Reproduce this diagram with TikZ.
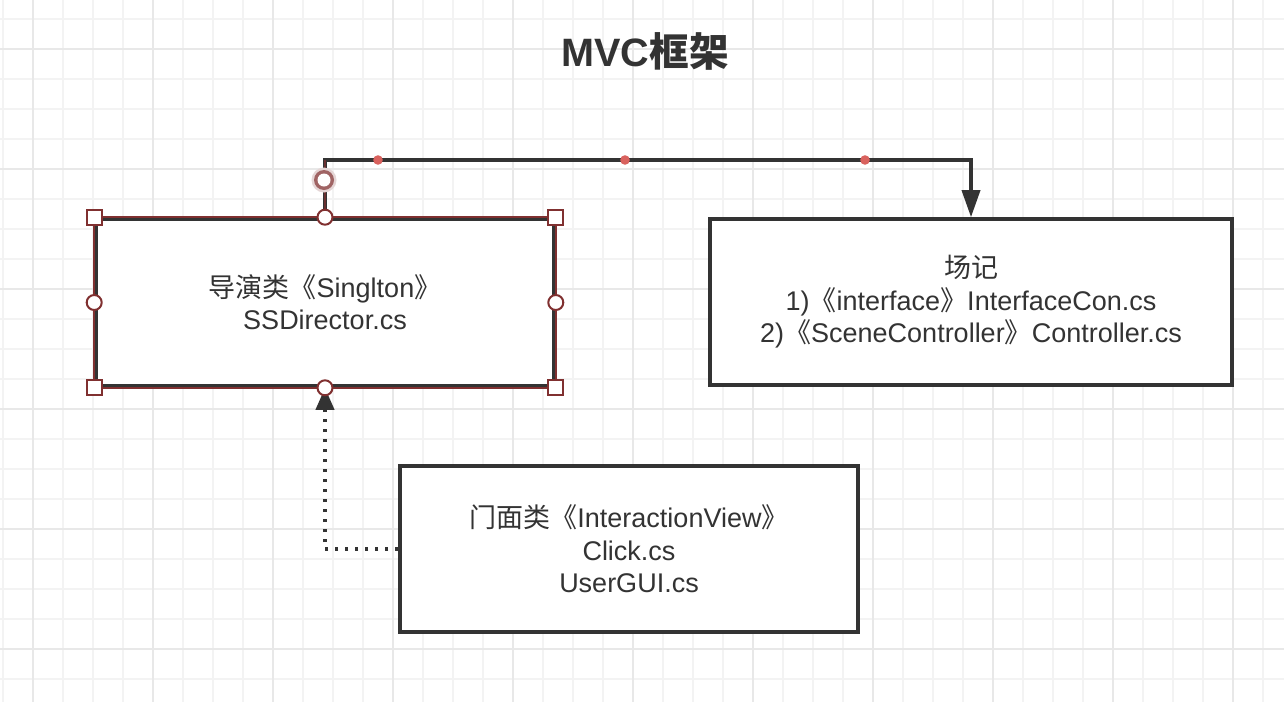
\documentclass[tikz,border=0pt]{standalone}
\usepackage{fontspec}
\setmainfont{Liberation Sans}
\newfontfamily\cjk{Noto Sans CJK SC}
\usetikzlibrary{arrows.meta}
\definecolor{ink}{HTML}{333333}
\definecolor{sel}{RGB}{128,48,48}
\definecolor{gridminor}{HTML}{F3F3F3}
\definecolor{gridmajor}{HTML}{E8E8E8}
\definecolor{dotred}{HTML}{D9625E}
\begin{document}
\begin{tikzpicture}[x=0.5pt,y=-0.5pt,
  box/.style={draw=ink, line width=1.8pt, fill=white, align=center, text=ink,
    font=\fontsize{13.5}{16.2}\selectfont, inner sep=0pt},
  conn/.style={draw=ink, line width=1.8pt},
  dotline/.style={draw=ink, line width=2pt, dash pattern=on 1.6pt off 3.4pt},
  sqhandle/.style={draw=sel, line width=1pt, fill=white, minimum size=7.5pt, inner sep=0pt, shape=rectangle},
  cirhandle/.style={draw=sel, line width=1pt, fill=white, circle, minimum size=7.5pt, inner sep=0pt},
  waypoint/.style={fill=dotred, circle, minimum size=4.8pt, inner sep=0pt},
]
\useasboundingbox (0,0) rectangle (1284,702);
\fill[white] (0,0) rectangle (1284,702);
% grid
\foreach \x in {3,33,...,1284} \draw[gridminor, line width=1pt] (\x,0) -- (\x,702);
\foreach \y in {19,49,...,702} \draw[gridminor, line width=1pt] (0,\y) -- (1284,\y);
\foreach \x in {33,153,...,1284} \draw[gridmajor, line width=1pt] (\x,0) -- (\x,702);
\foreach \y in {49,169,...,702} \draw[gridmajor, line width=1pt] (0,\y) -- (1284,\y);

% title
\node[text=ink, font=\fontsize{19.8}{22}\selectfont\bfseries] (title) at (645,51) {MVC{\cjk\bfseries 框架}};

% boxes
\node[box, minimum width=229pt, minimum height=83.5pt] (dir) at (325,302.5)
  {{\cjk 导演类《}Singlton{\cjk 》}\\SSDirector.cs};
\node[box, minimum width=261pt, minimum height=83pt] (scene) at (971,302)
  {{\cjk 场记}\\1){\cjk 《}interface{\cjk 》}InterfaceCon.cs\\2){\cjk 《}SceneController{\cjk 》}Controller.cs};
\node[box, minimum width=229pt, minimum height=83pt] (view) at (629,549)
  {{\cjk 门面类《}InteractionView{\cjk 》}\\Click.cs\\UserGUI.cs};

% connectors
\coordinate (topy) at (0,160);
\draw[conn, -{Triangle[width=9pt,length=13.5pt]}] (dir.north) -- (dir.north |- topy) -| (scene.north);
\draw[sel!70!ink, line width=0.9pt] (dir.north) -- (dir.north |- topy);
\draw[dotline, -{Triangle[width=9pt,length=11pt]}] (view.west) -| (dir.south);

% waypoints
\node[waypoint] (w1) at (378,160) {};
\node[waypoint] (w2) at (625,160) {};
\node[waypoint] (w3) at (865,160) {};

% selection outline
\draw[sel, line width=0.8pt] (dir.north west) rectangle (dir.south east);

% selection handles
\node[sqhandle] (h1) at (dir.north west) {};
\node[sqhandle] (h2) at (dir.north east) {};
\node[sqhandle] (h3) at (dir.south west) {};
\node[sqhandle] (h4) at (dir.south east) {};
\node[cirhandle] (h5) at (dir.north) {};
\node[cirhandle] (h6) at (dir.south) {};
\node[cirhandle] (h7) at (dir.west) {};
\node[cirhandle] (h8) at (dir.east) {};

% edge handle
\fill[sel!20] (324,180) circle (12.5);
\fill[sel!75] (324,180) circle (10);
\fill[white] (324,180) circle (6.5);
\end{tikzpicture}
\end{document}
